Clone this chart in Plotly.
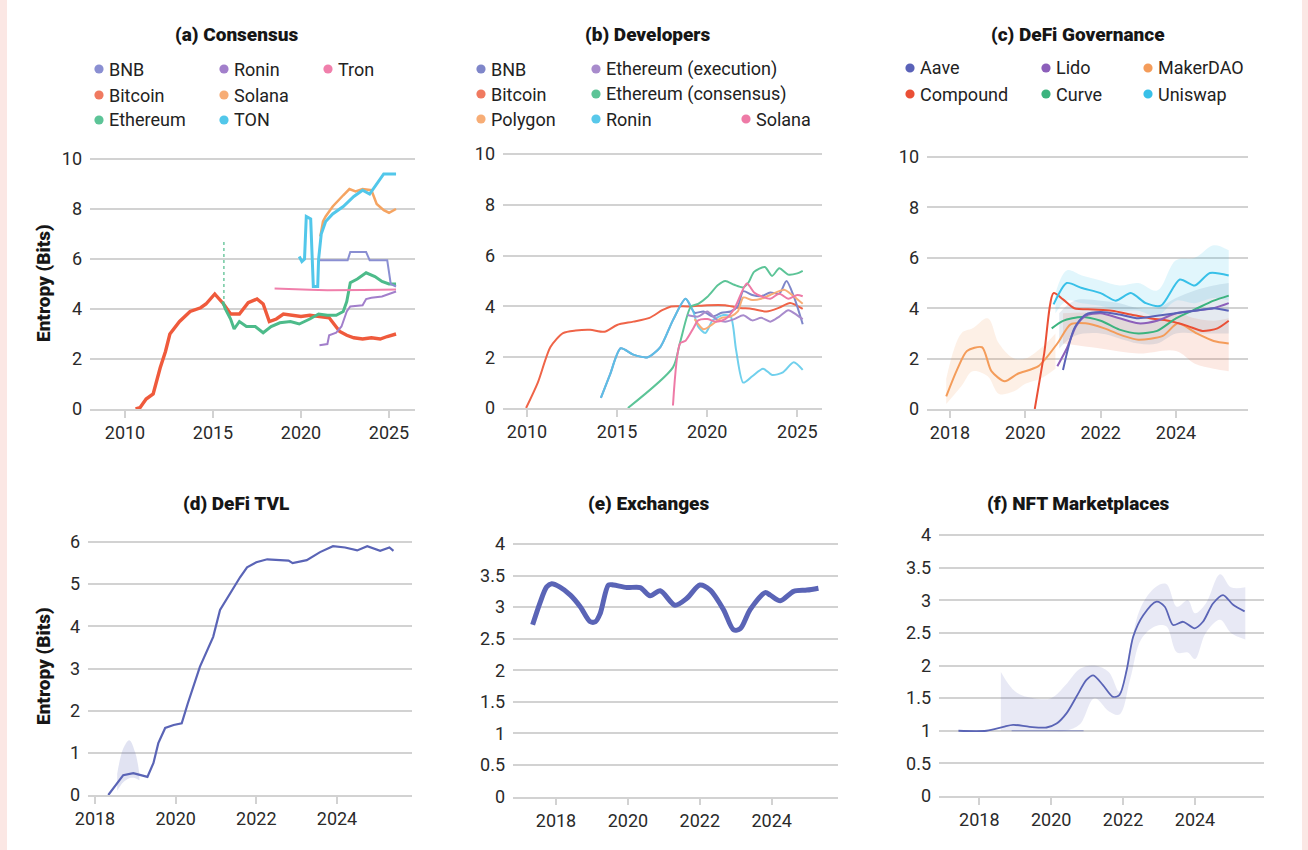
import plotly.graph_objects as go

W, H = 1308, 850
FONT = "Roboto"

# ---------------- (a) Consensus ----------------
a_bnb_x = [2021.0, 2022.65, 2022.8, 2023.7, 2023.9, 2024.9, 2025.1, 2025.4]
a_bnb_y = [5.95, 5.95, 6.28, 6.28, 5.95, 5.95, 5.0, 4.9]
a_bitcoin_x = [2010.6, 2010.85, 2011.2, 2011.6, 2012.0, 2012.3, 2012.55, 2013.1, 2013.7, 2014.3, 2014.6, 2015.1,
               2015.6, 2016.0, 2016.5, 2017.0, 2017.5, 2017.85, 2018.2, 2018.6, 2019.0, 2019.5, 2020.0, 2020.5,
               2021.0, 2021.6, 2022.2, 2022.6, 2023.0, 2023.5, 2024.0, 2024.5, 2024.9, 2025.4]
a_bitcoin_y = [0.0, 0.05, 0.4, 0.6, 1.65, 2.3, 3.0, 3.5, 3.9, 4.05, 4.2, 4.6,
               4.2, 3.8, 3.8, 4.25, 4.4, 4.2, 3.5, 3.6, 3.8, 3.75, 3.7, 3.75,
               3.7, 3.65, 3.1, 2.95, 2.85, 2.8, 2.85, 2.8, 2.9, 3.0]
a_ethereum_x = [2015.55, 2015.7, 2016.0, 2016.2, 2016.5, 2016.9, 2017.4, 2017.85, 2018.3, 2018.8, 2019.4, 2019.9,
                2020.5, 2021.0, 2021.5, 2022.0, 2022.4, 2022.6, 2022.8, 2023.2, 2023.7, 2024.2, 2024.6, 2025.0, 2025.4]
a_ethereum_y = [4.3, 4.0, 3.6, 3.2, 3.5, 3.3, 3.3, 3.05, 3.3, 3.45, 3.5, 3.4,
                3.6, 3.8, 3.75, 3.75, 3.9, 4.3, 5.05, 5.2, 5.45, 5.3, 5.1, 5.0, 5.0]
a_eth_spike_x = [2015.62, 2015.62]
a_eth_spike_y = [4.4, 6.7]
a_ronin_x = [2021.05, 2021.5, 2021.6, 2022.0, 2022.3, 2022.6, 2022.8, 2023.5, 2023.7, 2024.0, 2024.6, 2025.0, 2025.4]
a_ronin_y = [2.55, 2.6, 2.95, 3.05, 3.3, 3.9, 4.1, 4.15, 4.4, 4.45, 4.5, 4.6, 4.7]
a_solana_x = [2021.1, 2021.25, 2021.4, 2021.8, 2022.4, 2022.75, 2023.1, 2023.5, 2024.0, 2024.3, 2024.7, 2025.0, 2025.4]
a_solana_y = [6.9, 7.5, 7.7, 8.1, 8.55, 8.8, 8.7, 8.8, 8.75, 8.2, 7.95, 7.85, 8.0]
a_ton_x = [2019.9, 2020.05, 2020.2, 2020.3, 2020.55, 2020.7, 2020.95, 2021.0, 2021.15, 2021.4, 2021.8, 2022.4,
           2023.0, 2023.5, 2023.9, 2024.3, 2024.7, 2025.0, 2025.4]
a_ton_y = [6.1, 5.9, 6.0, 7.7, 7.6, 4.9, 4.9, 6.0, 7.0, 7.5, 7.8, 8.1,
           8.5, 8.75, 8.6, 9.0, 9.4, 9.4, 9.4]
a_tron_x = [2018.5, 2019.5, 2020.5, 2021.5, 2022.5, 2023.5, 2024.5, 2025.4]
a_tron_y = [4.82, 4.78, 4.77, 4.75, 4.77, 4.76, 4.77, 4.78]

# ---------------- (b) Developers ----------------
b_bitcoin_x = [2009.95, 2010.6, 2011.3, 2012.0, 2012.7, 2013.5, 2014.3, 2015.0, 2015.9, 2016.8, 2017.5, 2018.0,
               2019.0, 2020.0, 2021.0, 2021.7, 2022.5, 2023.3, 2024.0, 2024.6, 2025.3]
b_bitcoin_y = [0.0, 1.0, 2.4, 2.95, 3.05, 3.08, 3.0, 3.27, 3.4, 3.55, 3.85, 4.0,
               4.0, 4.05, 4.05, 3.95, 3.9, 3.8, 3.95, 4.13, 3.9]
b_ronin_x = [2014.1, 2014.6, 2015.2, 2015.9, 2016.7, 2017.4, 2018.1, 2018.8, 2019.2, 2019.5, 2019.9, 2020.3,
             2020.9, 2021.3, 2021.6, 2022.0, 2022.5, 2023.1, 2023.6, 2024.2, 2024.8, 2025.3]
b_ronin_y = [0.4, 1.3, 2.35, 2.1, 2.0, 2.4, 3.46, 4.3, 3.85, 3.2, 2.95, 3.45,
             3.66, 3.6, 2.3, 1.0, 1.25, 1.55, 1.3, 1.4, 1.8, 1.5]
b_bnb_x = [2014.1, 2014.6, 2015.2, 2015.9, 2016.7, 2017.4, 2018.1, 2018.8, 2019.3, 2019.8, 2020.3, 2020.8,
           2021.3, 2021.7, 2022.0, 2022.5, 2023.0, 2023.5, 2024.0, 2024.4, 2024.8, 2025.3]
b_bnb_y = [0.4, 1.3, 2.35, 2.1, 2.0, 2.4, 3.46, 4.3, 3.75, 3.8, 3.6, 3.75,
           3.8, 4.0, 4.6, 4.45, 4.4, 4.55, 4.5, 5.0, 4.4, 3.3]
b_eth_cons_x = [2015.6, 2018.1, 2018.5, 2019.1, 2019.5, 2020.0, 2020.6, 2021.0, 2021.5, 2022.0, 2022.3, 2022.6,
                2023.2, 2023.6, 2024.0, 2024.5, 2025.0, 2025.3]
b_eth_cons_y = [0.0, 1.6, 2.6, 4.0, 4.1, 4.37, 4.84, 5.0, 4.85, 4.75, 4.95, 5.36,
                5.55, 5.2, 5.5, 5.25, 5.3, 5.4]
b_solana_x = [2018.1, 2018.5, 2018.8, 2019.2, 2019.5, 2020.0, 2020.5, 2021.0, 2021.5, 2022.2, 2022.6, 2023.0,
              2023.5, 2024.0, 2024.5, 2025.0, 2025.3]
b_solana_y = [0.1, 2.55, 2.65, 3.1, 3.45, 3.5, 3.4, 3.5, 3.9, 4.9, 4.55, 4.4,
              4.3, 4.5, 4.3, 4.45, 4.4]
b_polygon_x = [2019.3, 2019.8, 2020.3, 2020.8, 2021.3, 2021.7, 2022.0, 2022.5, 2023.0, 2023.5, 2024.3, 2024.8, 2025.3]
b_polygon_y = [3.5, 3.1, 3.3, 3.55, 3.6, 3.8, 4.35, 4.25, 4.3, 4.45, 4.65, 4.4, 4.1]
b_eth_exec_x = [2018.9, 2019.5, 2020.0, 2020.5, 2021.0, 2021.5, 2022.0, 2022.5, 2023.0, 2023.5, 2024.0, 2024.5,
                2025.0, 2025.3]
b_eth_exec_y = [3.66, 3.6, 3.8, 3.5, 3.4, 3.5, 3.65, 3.45, 3.55, 3.4, 3.6, 3.85, 3.65, 3.5]

# ---------------- (c) DeFi Governance ----------------
c_maker_x = [2017.9, 2018.2, 2018.45, 2018.85, 2019.1, 2019.45, 2019.8, 2020.35, 2020.85, 2021.2, 2021.6, 2022.1,
             2022.6, 2023.0, 2023.65, 2024.05, 2024.55, 2025.0, 2025.4]
c_maker_y = [0.5, 1.6, 2.3, 2.45, 1.5, 1.1, 1.4, 1.7, 2.6, 3.36, 3.4, 3.2,
             2.9, 2.75, 2.9, 3.4, 3.0, 2.7, 2.6]
c_compound_x = [2020.25, 2020.5, 2020.75, 2021.0, 2021.3, 2021.8, 2022.3, 2022.8, 2023.3, 2023.8, 2024.3, 2024.7,
                2025.1, 2025.4]
c_compound_y = [0.0, 2.2, 4.6, 4.35, 4.0, 3.95, 3.9, 3.75, 3.6, 3.5, 3.3, 3.1, 3.2, 3.5]
c_uniswap_x = [2020.75, 2021.1, 2021.5, 2022.0, 2022.4, 2022.8, 2023.2, 2023.6, 2024.1, 2024.5, 2024.9, 2025.4]
c_uniswap_y = [4.15, 5.0, 4.8, 4.6, 4.3, 4.6, 4.2, 4.1, 5.14, 4.9, 5.4, 5.3]
c_curve_x = [2020.7, 2021.0, 2021.5, 2022.0, 2022.5, 2023.0, 2023.5, 2024.0, 2024.5, 2025.0, 2025.4]
c_curve_y = [3.2, 3.5, 3.65, 3.5, 3.15, 3.0, 3.1, 3.6, 3.95, 4.3, 4.5]
c_lido_x = [2020.85, 2021.1, 2021.35, 2021.6, 2022.0, 2022.5, 2023.0, 2023.5, 2024.0, 2024.5, 2025.0, 2025.4]
c_lido_y = [1.7, 2.4, 3.3, 3.7, 3.8, 3.6, 3.4, 3.5, 3.8, 3.9, 4.0, 4.2]
c_aave_x = [2021.0, 2021.3, 2021.6, 2022.0, 2022.5, 2023.0, 2023.5, 2024.0, 2024.5, 2025.0, 2025.4]
c_aave_y = [1.55, 3.2, 3.75, 3.85, 3.75, 3.6, 3.7, 3.8, 3.9, 4.0, 3.9]

# scatter clouds (lower / upper envelope)
c_maker_cloud_x = [2017.9, 2018.3, 2018.6, 2019.0, 2019.3, 2019.7, 2020.0, 2020.4, 2020.8]
c_maker_cloud_lo = [0.2, 0.9, 1.5, 1.3, 0.6, 0.7, 1.0, 1.2, 1.6]
c_maker_cloud_hi = [1.2, 3.0, 3.2, 3.6, 2.6, 2.0, 2.0, 2.4, 3.0]
c_low_cloud_x = [2021.0, 2022.0, 2023.0, 2024.0, 2024.5, 2025.0, 2025.4]
c_low_cloud_lo = [2.6, 2.4, 2.2, 2.3, 1.8, 1.6, 1.5]
c_low_cloud_hi = [3.8, 3.8, 3.4, 3.8, 3.6, 3.5, 3.6]
c_mid_cloud_x = [2020.9, 2021.3, 2022.0, 2022.5, 2023.0, 2023.5, 2024.0, 2024.5, 2025.0, 2025.4]
c_mid_cloud_lo = [2.4, 2.9, 3.0, 2.8, 2.6, 2.6, 3.0, 3.0, 3.0, 3.0]
c_mid_cloud_hi = [3.8, 4.3, 4.3, 4.2, 4.0, 4.0, 4.4, 4.7, 4.9, 5.0]
c_uni_cloud_x = [2020.8, 2021.1, 2021.5, 2022.0, 2022.5, 2023.0, 2023.5, 2024.0, 2024.5, 2025.0, 2025.4]
c_uni_cloud_lo = [3.8, 4.3, 4.2, 4.1, 3.9, 3.9, 3.7, 4.3, 4.2, 4.4, 4.3]
c_uni_cloud_hi = [4.6, 5.5, 5.3, 5.1, 4.9, 5.0, 4.7, 5.9, 6.0, 6.5, 6.3]

# ---------------- (d) DeFi TVL ----------------
d_tvl_x = [2018.33, 2018.7, 2018.95, 2019.3, 2019.45, 2019.57, 2019.74, 2019.95, 2020.15, 2020.3, 2020.6, 2020.93,
           2021.1, 2021.35, 2021.6, 2021.77, 2022.0, 2022.27, 2022.8, 2022.9, 2023.25, 2023.58, 2023.9, 2024.2,
           2024.5, 2024.75, 2025.07, 2025.3, 2025.4]
d_tvl_y = [0.0, 0.47, 0.52, 0.43, 0.76, 1.23, 1.59, 1.66, 1.7, 2.17, 3.04, 3.75,
           4.39, 4.79, 5.17, 5.4, 5.52, 5.59, 5.56, 5.5, 5.57, 5.76, 5.9, 5.87,
           5.8, 5.9, 5.79, 5.87, 5.79]
d_cloud_x = [2018.55, 2018.7, 2018.85, 2019.0, 2019.1]
d_cloud_lo = [0.1, 0.3, 0.4, 0.4, 0.35]
d_cloud_hi = [0.5, 1.1, 1.3, 1.0, 0.5]

# ---------------- (e) Exchanges ----------------
e_x = [2017.35, 2017.55, 2017.74, 2017.88, 2018.1, 2018.4, 2018.67, 2018.95, 2019.1, 2019.23, 2019.46, 2019.6,
       2019.97, 2020.34, 2020.62, 2020.9, 2021.31, 2021.64, 2022.0, 2022.29, 2022.66, 2022.94, 2023.13, 2023.4,
       2023.82, 2023.96, 2024.24, 2024.61, 2024.98, 2025.3]
e_y = [2.72, 3.06, 3.32, 3.37, 3.32, 3.19, 3.01, 2.77, 2.77, 2.9, 3.35, 3.35,
       3.31, 3.31, 3.18, 3.26, 3.03, 3.14, 3.35, 3.27, 2.96, 2.64, 2.66, 2.96,
       3.23, 3.19, 3.1, 3.25, 3.27, 3.3]

# ---------------- (f) NFT Marketplaces ----------------
f_x = [2017.42, 2018.2, 2018.67, 2018.94, 2019.4, 2019.87, 2020.15, 2020.43, 2020.7, 2020.98, 2021.17, 2021.44,
       2021.72, 2021.9, 2022.1, 2022.28, 2022.56, 2022.93, 2023.16, 2023.39, 2023.67, 2023.99, 2024.22, 2024.5,
       2024.78, 2025.06, 2025.38]
f_y = [1.0, 1.0, 1.06, 1.09, 1.06, 1.05, 1.11, 1.27, 1.52, 1.78, 1.85, 1.70,
       1.52, 1.55, 1.93, 2.44, 2.77, 2.98, 2.9, 2.62, 2.67, 2.57, 2.67, 2.95,
       3.08, 2.93, 2.83]
f_base_x = [2018.9, 2020.9]
f_base_y = [1.0, 1.0]
f_cloud_x = [2018.6, 2019.0, 2019.5, 2020.0, 2020.4, 2020.8, 2021.2, 2021.6, 2021.9, 2022.2, 2022.5, 2022.9,
             2023.2, 2023.5, 2023.8, 2024.0, 2024.3, 2024.7, 2025.0, 2025.4]
f_cloud_lo = [1.0, 1.0, 1.0, 1.0, 1.0, 1.1, 1.5, 1.3, 1.25, 1.8, 2.4, 2.6,
              2.6, 2.2, 2.2, 2.1, 2.5, 2.7, 2.5, 2.4]
f_cloud_hi = [1.9, 1.6, 1.5, 1.5, 1.7, 1.95, 2.0, 1.9, 1.6, 2.3, 2.9, 3.2,
              3.25, 2.9, 3.0, 2.8, 2.95, 3.4, 3.2, 3.2]

tick_a = [2010, 2015, 2020, 2025]
tick_c = [2018, 2020, 2022, 2024]
yt_10 = [0, 2, 4, 6, 8, 10]
yt_6 = [0, 1, 2, 3, 4, 5, 6]
yt_4 = [0, 0.5, 1, 1.5, 2, 2.5, 3, 3.5, 4]

# colours
C = dict(bnb="#8a8fd2", bitcoin="#ef5a3c", ethereum="#4dbb8a", ronin="#a27fcb", solana="#f5a462",
         ton="#52c7ea", tron="#f07fab", b_bnb="#7f86c9", b_bitcoin="#ef6448", b_polygon="#f7ad76",
         b_exec="#a88bcc", b_cons="#5cc497", b_ronin="#58c8ea", b_solana="#ee7aa6",
         aave="#5a62b8", lido="#8c5fba", maker="#f49c5a", compound="#ea4f35", curve="#3bb37e",
         uniswap="#38c0e8", blue="#5a64b6")

# panel geometry in pixels: x (px0, v0, px1, v1, left, right), y (py0, v0, py1, v1, bottom, top)
P = {
    1: dict(x=(125, 2010, 389, 2025, 90, 415), y=(409, 0, 159, 10, 409, 156), xt=tick_a, yt=yt_10),
    2: dict(x=(527, 2010, 797.3, 2025, 503, 822), y=(408, 0, 154, 10, 408, 151), xt=tick_a, yt=yt_10),
    3: dict(x=(950, 2018, 1176, 2024, 927, 1248), y=(409, 0, 157, 10, 409, 154), xt=tick_c, yt=yt_10),
    4: dict(x=(95, 2018, 337, 2024, 88, 412), y=(795, 0, 542, 6, 795, 539), xt=tick_c, yt=yt_6),
    5: dict(x=(556, 2018, 771.7, 2024, 513, 838), y=(796.5, 0, 544, 4, 796.5, 541), xt=tick_c, yt=yt_4),
    6: dict(x=(979.3, 2018, 1195, 2024, 939, 1264), y=(796, 0, 535, 4, 796, 532), xt=tick_c, yt=yt_4),
}


def lin(p0, v0, p1, v1, q):
    return v0 + (q - p0) * (v1 - v0) / (p1 - p0)


fig = go.Figure()

GRID = "#d2d2d2"
TICKFONT = dict(family=FONT, size=18, color="#2a2a2a")
for i, p in P.items():
    xp0, xv0, xp1, xv1, xl, xr = p["x"]
    yp0, yv0, yp1, yv1, yb, ytp = p["y"]
    sfx = "" if i == 1 else str(i)
    fig.layout["xaxis" + sfx] = dict(
        domain=[xl / W, xr / W], range=[lin(xp0, xv0, xp1, xv1, xl), lin(xp0, xv0, xp1, xv1, xr)],
        tickvals=p["xt"], showgrid=False, zeroline=False, showline=True, linecolor=GRID, linewidth=1.5,
        ticks="outside", ticklen=7, tickwidth=1.5, tickcolor=GRID, anchor="y" + sfx, automargin=False,
        tickfont=TICKFONT, fixedrange=True)
    fig.layout["yaxis" + sfx] = dict(
        domain=[1 - yb / H, 1 - ytp / H], range=[lin(yp0, yv0, yp1, yv1, yb), lin(yp0, yv0, yp1, yv1, ytp)],
        tickvals=p["yt"], showgrid=True, gridcolor=GRID, gridwidth=1.5, zeroline=False, showline=False,
        ticks="", anchor="x" + sfx, ticklabelstandoff=7, automargin=False,
        tickfont=TICKFONT, fixedrange=True)


def ax(i):
    sfx = "" if i == 1 else str(i)
    return "x" + sfx, "y" + sfx


def add(i, x, y, color, width=2.0, shape="spline", smooth=0.7, opacity=1.0, dash="solid"):
    xa, ya = ax(i)
    line = dict(color=color, width=width, shape=shape, dash=dash)
    if shape == "spline":
        line["smoothing"] = smooth
    fig.add_trace(go.Scatter(x=x, y=y, mode="lines", line=line, opacity=opacity,
                             xaxis=xa, yaxis=ya, showlegend=False, hoverinfo="skip"))


def band(i, x, lo, hi, rgba):
    xa, ya = ax(i)
    fig.add_trace(go.Scatter(x=x, y=lo, mode="lines", line=dict(width=0, shape="spline"),
                             xaxis=xa, yaxis=ya, showlegend=False, hoverinfo="skip"))
    fig.add_trace(go.Scatter(x=x, y=hi, mode="lines", line=dict(width=0, shape="spline"), fill="tonexty",
                             fillcolor=rgba, xaxis=xa, yaxis=ya, showlegend=False, hoverinfo="skip"))


# (a)
add(1, a_bitcoin_x, a_bitcoin_y, C["bitcoin"], 3.4, "linear")
add(1, a_eth_spike_x, a_eth_spike_y, C["ethereum"], 1.2, "linear", dash="dot")
add(1, a_ethereum_x, a_ethereum_y, C["ethereum"], 3.0, "linear")
add(1, a_tron_x, a_tron_y, C["tron"], 2.2, "linear")
add(1, a_ronin_x, a_ronin_y, C["ronin"], 2.0, "linear")
add(1, a_bnb_x, a_bnb_y, C["bnb"], 2.0, "linear")
add(1, a_solana_x, a_solana_y, C["solana"], 2.5, "linear")
add(1, a_ton_x, a_ton_y, C["ton"], 3.0, "linear")
# (b)
add(2, b_bitcoin_x, b_bitcoin_y, C["b_bitcoin"], 2.0)
add(2, b_bnb_x, b_bnb_y, C["b_bnb"], 2.0)
add(2, b_ronin_x, b_ronin_y, C["b_ronin"], 2.0, opacity=0.85)
add(2, b_eth_cons_x, b_eth_cons_y, C["b_cons"], 2.0)
add(2, b_eth_exec_x, b_eth_exec_y, C["b_exec"], 2.0)
add(2, b_polygon_x, b_polygon_y, C["b_polygon"], 2.0)
add(2, b_solana_x, b_solana_y, C["b_solana"], 2.0)
# (c)
band(3, c_maker_cloud_x, c_maker_cloud_lo, c_maker_cloud_hi, "rgba(244,156,90,0.15)")
band(3, c_low_cloud_x, c_low_cloud_lo, c_low_cloud_hi, "rgba(236,110,70,0.15)")
band(3, c_mid_cloud_x, c_mid_cloud_lo, c_mid_cloud_hi, "rgba(110,140,170,0.18)")
band(3, c_uni_cloud_x, c_uni_cloud_lo, c_uni_cloud_hi, "rgba(56,192,232,0.15)")
add(3, c_maker_x, c_maker_y, C["maker"], 2.0)
add(3, c_compound_x, c_compound_y, C["compound"], 2.0)
add(3, c_curve_x, c_curve_y, C["curve"], 2.0)
add(3, c_lido_x, c_lido_y, C["lido"], 2.0)
add(3, c_aave_x, c_aave_y, C["aave"], 2.0)
add(3, c_uniswap_x, c_uniswap_y, C["uniswap"], 2.0)
# (d)
band(4, d_cloud_x, d_cloud_lo, d_cloud_hi, "rgba(90,100,182,0.18)")
add(4, d_tvl_x, d_tvl_y, C["blue"], 2.2, "linear")
# (e)
add(5, e_x, e_y, C["blue"], 5.0, "spline", 0.8)
# (f)
band(6, f_cloud_x, f_cloud_lo, f_cloud_hi, "rgba(90,100,182,0.14)")
add(6, f_base_x, f_base_y, C["blue"], 1.2, "linear", opacity=0.6)
add(6, f_x, f_y, C["blue"], 1.8, "spline", 0.8)

ann = []
shapes = []


def text(x, y, s, size=17, bold=False, xanchor="center", angle=0):
    ann.append(dict(x=x / W, y=1 - y / H, xref="paper", yref="paper", text=s, showarrow=False,
                    xanchor=xanchor, yanchor="middle", textangle=angle,
                    font=dict(family=FONT, size=size, color="#161616" if bold else "#222222",
                              weight=900 if bold else 400)))


titles = [(236, 34, "(a) Consensus"), (648, 34, "(b) Developers"), (1078, 34, "(c) DeFi Governance"),
          (236, 503, "(d) DeFi TVL"), (648, 503, "(e) Exchanges"), (1078, 503, "(f) NFT Marketplaces")]
for x, y, s in titles:
    text(x, y, s, 19, True)

text(43, 283, "Entropy (Bits)", 19, True, angle=-90)
text(43, 666, "Entropy (Bits)", 19, True, angle=-90)

legend_a = [(99, 69, "BNB", C["bnb"]), (99, 95, "Bitcoin", "#f07a60"), (99, 120, "Ethereum", "#5cc497"),
            (224, 69, "Ronin", C["ronin"]), (224, 95, "Solana", "#f7ad76"), (224, 120, "TON", C["ton"]),
            (328, 69, "Tron", C["tron"])]
legend_b = [(481, 69, "BNB", C["b_bnb"]), (481, 94, "Bitcoin", "#f07a60"), (481, 119, "Polygon", C["b_polygon"]),
            (596, 69, "Ethereum (execution)", C["b_exec"]), (596, 94, "Ethereum (consensus)", C["b_cons"]),
            (596, 119, "Ronin", C["b_ronin"]), (746, 119, "Solana", C["b_solana"])]
legend_c = [(910, 68, "Aave", C["aave"]), (910, 94, "Compound", C["compound"]),
            (1046, 68, "Lido", C["lido"]), (1046, 94, "Curve", C["curve"]),
            (1148, 68, "MakerDAO", C["maker"]), (1148, 94, "Uniswap", C["uniswap"])]
R = 4.6
for cx, cy, s, col in legend_a + legend_b + legend_c:
    shapes.append(dict(type="circle", xref="paper", yref="paper", x0=(cx - R) / W, x1=(cx + R) / W,
                       y0=1 - (cy + R) / H, y1=1 - (cy - R) / H, fillcolor=col, line=dict(width=0)))
    text(cx + 8, cy, s, 18, False, xanchor="left")

# pale border strips at the page edges
shapes.append(dict(type="rect", xref="paper", yref="paper", x0=0, x1=7 / W, y0=0, y1=1,
                   fillcolor="#fbe7e4", line=dict(width=0), layer="below"))
shapes.append(dict(type="rect", xref="paper", yref="paper", x0=1302 / W, x1=1, y0=0, y1=1,
                   fillcolor="#fbe7e4", line=dict(width=0), layer="below"))

fig.update_layout(width=W, height=H, margin=dict(l=0, r=0, t=0, b=0, autoexpand=False), paper_bgcolor="white",
                  plot_bgcolor="white", annotations=ann, shapes=shapes, showlegend=False,
                  font=dict(family=FONT))

fig.write_html("out.html", config={"displayModeBar": False},
               post_script="document.body.style.margin='0';document.body.style.overflow='hidden';")
